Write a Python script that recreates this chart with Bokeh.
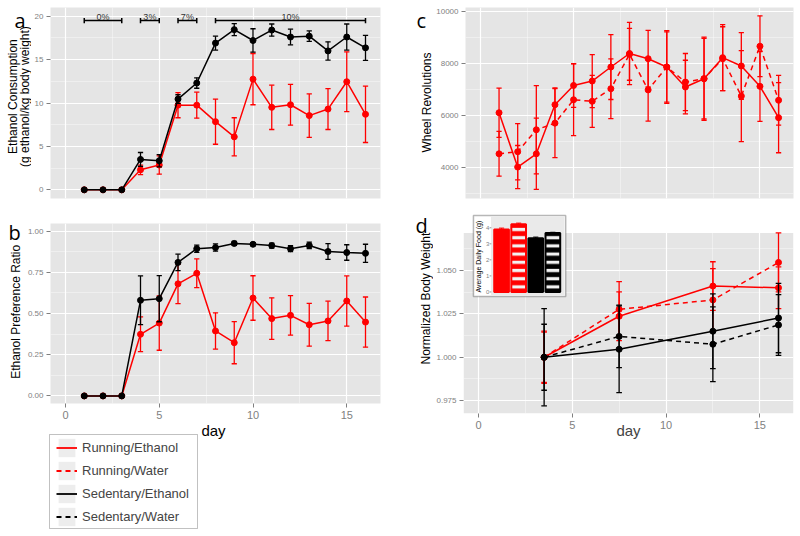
import math
from bokeh.plotting import figure
from bokeh.models import (Range1d, FixedTicker, NumeralTickFormatter, Legend, LegendItem,
                          BoxAnnotation, ColumnDataSource)
from bokeh.layouts import row, column
from bokeh.core.properties import value
from bokeh.embed import file_html
from bokeh.resources import INLINE

NAN = float("nan")

# ---------------- data ----------------
days = [1, 2, 3, 4, 5, 6, 7, 8, 9, 10, 11, 12, 13, 14, 15, 16]

# panel a: ethanol consumption (g/kg)
sed_eth_cons = [0, 0, 0, 3.5, 3.35, 10.45, 12.3, 16.9, 18.45, 17.2, 18.4, 17.6, 17.7, 16.0, 17.6, 16.35]
sed_eth_cons_se = [0, 0, 0, 0.8, 0.7, 0.5, 0.6, 0.8, 0.7, 1.35, 0.7, 0.9, 0.6, 1.05, 1.5, 1.45]
run_eth_cons = [0, 0, 0, 2.3, 2.85, 9.75, 9.75, 7.85, 6.1, 12.75, 9.5, 9.8, 8.55, 9.3, 12.45, 8.7]
run_eth_cons_se = [0, 0, 0, 0.55, 1.05, 1.45, 1.5, 2.6, 2.2, 2.95, 2.55, 2.35, 2.5, 2.35, 3.45, 3.25]

# concentration brackets
conc_start = [1, 4, 6, 8]
conc_end = [3, 5, 7, 16]
conc_label = ["0%", "3%", "7%", "10%"]
conc_level = 19.5

# panel b: ethanol preference ratio
sed_eth_pref = [0, 0, 0, 0.58, 0.59, 0.81, 0.893, 0.9, 0.925, 0.92, 0.912, 0.893, 0.913, 0.876, 0.87, 0.865]
sed_eth_pref_se = [0, 0, 0, 0.148, 0.14, 0.05, 0.022, 0.022, 0.012, 0.008, 0.015, 0.018, 0.02, 0.048, 0.047, 0.055]
run_eth_pref = [0, 0, 0, 0.374, 0.442, 0.68, 0.744, 0.394, 0.323, 0.594, 0.469, 0.489, 0.432, 0.455, 0.576, 0.448]
run_eth_pref_se = [0, 0, 0, 0.105, 0.165, 0.12, 0.087, 0.11, 0.128, 0.135, 0.126, 0.12, 0.13, 0.12, 0.152, 0.152]

# panel c: wheel revolutions
run_eth_wheel = [6120, 4030, 4540, 6430, 7170, 7340, 7880, 8400, 8200, 7880, 7110, 7430, 8240, 7920, 7135, 5930]
run_eth_wheel_se = [950, 830, 1370, 650, 840, 1020, 1250, 1200, 1090, 1350, 1030, 1550, 1270, 1280, 1350, 1350]
run_wat_wheel = [4540, 4620, 5465, 5720, 6620, 6560, 7045, 8370, 7000, 7880, 7300, 7430, 8200, 6760, 8680, 6600]
run_wat_wheel_se = [860, 1080, 1700, 1330, 1380, 1000, 1150, 1000, 1200, 1400, 1100, 1600, 1230, 1750, 1170, 960]

# panel d: normalized body weight
bw_days = [3.5, 7.5, 12.5, 16]
run_eth_bw = [1.000, 1.0236, 1.041, 1.040]
run_eth_bw_se = [0.015, 0.014, 0.014, 0.012]
run_wat_bw = [1.000, 1.0276, 1.033, 1.0546]
run_wat_bw_se = [0.0145, 0.016, 0.018, 0.017]
sed_eth_bw = [1.000, 1.0046, 1.015, 1.0226]
sed_eth_bw_se = [0.028, 0.025, 0.0215, 0.020]
sed_wat_bw = [1.000, 1.012, 1.0075, 1.0186]
sed_wat_bw_se = [0.019, 0.018, 0.0215, 0.0175]

# inset: average daily food (g)
food_groups = ["Running/Ethanol", "Running/Water", "Sedentary/Ethanol", "Sedentary/Water"]
food_mean = [3.9, 4.22, 3.35, 3.68]
food_se = [0.08, 0.07, 0.07, 0.04]
food_ticks = [0, 1, 2, 3, 4]

group_names = ["Running/Ethanol", "Running/Water", "Sedentary/Ethanol", "Sedentary/Water"]

# ---------------- styling ----------------
FONT = "Liberation Sans"
LETTER_FONT = "Open Sans"
RED = "#FF0000"
BLACK = "#000000"
PANEL_BG = "#E5E5E5"
TICK_GRAY = "#7F7F7F"
XR = (-0.8, 16.8)
XTICKS = [0, 5, 10, 15]
XMINOR = [2.5, 7.5, 12.5]


def make_fig(w, h, left, right, top, bottom, yr, yticks, yminor, yfmt=None, show_x=False, bg=PANEL_BG):
    p = figure(width=w, height=h, x_range=Range1d(*XR), y_range=Range1d(*yr),
               output_backend="svg", toolbar_location=None, title=None,
               min_border_left=left, min_border_right=right,
               min_border_top=top, min_border_bottom=bottom)
    p.background_fill_color = bg
    p.border_fill_color = "white"
    p.outline_line_color = None
    p.xaxis.ticker = FixedTicker(ticks=XTICKS, minor_ticks=XMINOR)
    p.yaxis.ticker = FixedTicker(ticks=yticks, minor_ticks=yminor)
    if yfmt:
        p.yaxis.formatter = NumeralTickFormatter(format=yfmt)
    for ax in (p.xaxis, p.yaxis):
        ax.axis_line_color = None
        ax.major_tick_in = 0
        ax.major_tick_out = 4
        ax.major_tick_line_color = TICK_GRAY
        ax.minor_tick_line_color = None
        ax.major_label_text_color = TICK_GRAY
        ax.major_label_text_font = FONT
    p.yaxis.major_label_text_font_size = "8px"
    p.yaxis.major_label_standoff = 3
    p.xaxis.major_label_text_font_size = "11px"
    p.xaxis.major_label_standoff = 3
    if not show_x:
        p.xaxis.visible = False
    for g in (p.xgrid, p.ygrid):
        g.grid_line_color = "white"
        g.grid_line_width = 1.2
        g.minor_grid_line_color = "white"
        g.minor_grid_line_alpha = 0.5
        g.minor_grid_line_width = 0.8
    return p


def strip(w, h):
    """Text-only figure (y grows downward, units = pixels) for letters, titles and the legend."""
    s = figure(width=w, height=h, x_range=Range1d(0, w), y_range=Range1d(h, 0),
               output_backend="svg", toolbar_location=None, title=None,
               min_border_left=0, min_border_right=0, min_border_top=0, min_border_bottom=0)
    s.axis.visible = False
    s.grid.visible = False
    s.outline_line_color = None
    s.background_fill_color = "white"
    s.border_fill_color = "white"
    return s


def put_text(fig, x, y, txt, size, font=FONT, angle=0.0, align="center", color="black"):
    fig.text(x=[x], y=[y], text=[txt], angle=angle, text_font=value(font), text_font_size=size,
             text_color=color, text_align=align, text_baseline="middle")


def series(p, x, y, se, color, dash="solid", cap=0.14):
    lo = [a - b for a, b in zip(y, se)]
    hi = [a + b for a, b in zip(y, se)]
    xl = [a - cap for a in x]
    xr = [a + cap for a in x]
    p.segment(x0=x, y0=lo, x1=x, y1=hi, line_color=color, line_width=1.3)
    p.segment(x0=xl, y0=lo, x1=xr, y1=lo, line_color=color, line_width=1.3)
    p.segment(x0=xl, y0=hi, x1=xr, y1=hi, line_color=color, line_width=1.3)
    p.line(x, y, line_color=color, line_width=1.5, line_dash=dash)
    p.scatter(x, y, size=6, fill_color=color, line_color=color)


# ---------------- panel a ----------------
sa = strip(31, 208)
put_text(sa, 14, 14.3, "a", "20px", font=LETTER_FONT, align="left")
put_text(sa, 12.5, 97, "Ethanol Consumption", "12px", angle=math.pi / 2)
put_text(sa, 24.5, 97, "(g ethanol/kg body weight)", "12px", angle=math.pi / 2)

pa = make_fig(369, 208, 17, 20, 7, 10, (-1.0, 21.0), [0, 5, 10, 15, 20], [2.5, 7.5, 12.5, 17.5])
series(pa, days, run_eth_cons, run_eth_cons_se, RED)
series(pa, days, sed_eth_cons, sed_eth_cons_se, BLACK)
tick_half = 0.3
pa.segment(x0=conc_start, y0=[conc_level] * 4, x1=conc_end, y1=[conc_level] * 4, line_color=BLACK, line_width=1.5)
pa.segment(x0=conc_start, y0=[conc_level - tick_half] * 4, x1=conc_start, y1=[conc_level + tick_half] * 4,
           line_color=BLACK, line_width=1.5)
pa.segment(x0=conc_end, y0=[conc_level - tick_half] * 4, x1=conc_end, y1=[conc_level + tick_half] * 4,
           line_color=BLACK, line_width=1.5)
pa.text(x=[(a + b) / 2 for a, b in zip(conc_start, conc_end)], y=[conc_level + 0.45] * 4, text=conc_label,
        text_font=value(FONT), text_font_size="9px", text_color="#333333",
        text_align="center", text_baseline="middle")

# ---------------- panel b ----------------
sb = strip(24, 215)
put_text(sb, 8, 11.3, "b", "20px", font=LETTER_FONT, align="left")
put_text(sb, 15.5, 105.5, "Ethanol Preference Ratio", "12px", angle=math.pi / 2)

pb = make_fig(376, 215, 23, 20, 15, 20, (-0.046, 1.046), [0, 0.25, 0.5, 0.75, 1.0],
              [0.125, 0.375, 0.625, 0.875], yfmt="0.00", show_x=True)
series(pb, days, run_eth_pref, run_eth_pref_se, RED)
series(pb, days, sed_eth_pref, sed_eth_pref_se, BLACK)

# ---------------- x title + legend below panel b ----------------
pl = strip(400, 113)
put_text(pl, 213, 6.5, "day", "15px")
key_bg = pl.quad(left=[NAN], right=[NAN], top=[NAN], bottom=[NAN], fill_color="#EDEDED", line_color=None)
key_styles = [(RED, "solid"), (RED, "5 4"), (BLACK, "solid"), (BLACK, "5 4")]
items = []
for name, (col, dash) in zip(group_names, key_styles):
    kr = pl.line(x=[NAN], y=[NAN], line_color=col, line_width=1.8, line_dash=dash)
    items.append(LegendItem(label=name, renderers=[key_bg, kr]))
legend = Legend(items=items, location=(56, 8), label_text_font=FONT, label_text_font_size="13px",
                border_line_color=None, background_fill_alpha=0,
                padding=1, spacing=0, glyph_width=21, glyph_height=23,
                label_height=23, label_standoff=5, margin=0)
pl.add_layout(legend)
pl.add_layout(BoxAnnotation(left=49, right=197, top=11, bottom=105, fill_alpha=0,
                            line_color="#333333", line_width=1))

# ---------------- panel c ----------------
sc = strip(33, 208)
put_text(sc, 16, 13.8, "c", "20px", font=LETTER_FONT, align="left")
put_text(sc, 26.5, 103.5, "Wheel Revolutions", "12px", angle=math.pi / 2)

pc = make_fig(367, 208, 30, 7, 7, 10, (2820, 10170), [4000, 6000, 8000, 10000], [3000, 5000, 7000, 9000])
series(pc, days, run_eth_wheel, run_eth_wheel_se, RED)
series(pc, days, run_wat_wheel, run_wat_wheel_se, RED, dash="5 4")

# ---------------- panel d ----------------
sd = strip(33, 248)
put_text(sd, 15, 14.3, "d", "20px", font=LETTER_FONT, align="left")
put_text(sd, 25, 105.5, "Normalized Body Weight", "12px", angle=math.pi / 2)

GRAY_TOP = 1.0716
pd_ = make_fig(367, 248, 28, 7, 5, 43, (0.9676, 1.0828), [0.975, 1.0, 1.025, 1.05],
               [0.9875, 1.0125, 1.0375, 1.0625], yfmt="0.000", show_x=True, bg="white")
pd_.xaxis.axis_label = "day"
pd_.xaxis.axis_label_text_font = FONT
pd_.xaxis.axis_label_text_font_size = "15px"
pd_.xaxis.axis_label_text_font_style = "normal"
pd_.xaxis.axis_label_standoff = -10
pd_.add_layout(BoxAnnotation(bottom=0.9676, top=GRAY_TOP, fill_color=PANEL_BG, fill_alpha=1,
                             line_color=None, level="image"))
series(pd_, bw_days, run_eth_bw, run_eth_bw_se, RED, cap=0.15)
series(pd_, bw_days, run_wat_bw, run_wat_bw_se, RED, dash="5 4", cap=0.15)
series(pd_, bw_days, sed_eth_bw, sed_eth_bw_se, BLACK, cap=0.15)
series(pd_, bw_days, sed_wat_bw, sed_wat_bw_se, BLACK, dash="5 4", cap=0.15)

# inset (own scales inside panel d)
pd_.extra_x_ranges = {"inset": Range1d(-1.227, 18.076)}
pd_.extra_y_ranges = {"inset": Range1d(-7.578, 4.89)}
pd_.add_layout(BoxAnnotation(left=-0.645, right=4.75, bottom=-0.286, top=4.76,
                             x_range_name="inset", y_range_name="inset",
                             fill_color="white", fill_alpha=1, line_color="#111111", line_width=1.5,
                             level="underlay"))
pd_.add_layout(BoxAnnotation(left=0.38, right=4.68, bottom=-0.2, top=4.68,
                             x_range_name="inset", y_range_name="inset",
                             fill_color="#EAEAEA", fill_alpha=1, line_color=None, level="underlay"))
food_x = list(range(1, len(food_mean) + 1))
food_src = ColumnDataSource(dict(
    x=food_x, top=food_mean,
    fill=[RED, RED, BLACK, BLACK],
    hatch=[" ", "-", " ", "-"],
))
pd_.vbar(x="x", top="top", bottom=0, width=0.86, source=food_src, fill_color="fill", line_color="fill",
         line_width=2, hatch_pattern="hatch", hatch_color="#F2F2F2", hatch_weight=3.2, hatch_scale=8.2,
         x_range_name="inset", y_range_name="inset")
f_lo = [m - s for m, s in zip(food_mean, food_se)]
f_hi = [m + s for m, s in zip(food_mean, food_se)]
pd_.segment(x0=food_x, y0=f_lo, x1=food_x, y1=f_hi, line_color=[RED, RED, BLACK, BLACK], line_width=1,
            x_range_name="inset", y_range_name="inset")
pd_.segment(x0=[x - 0.15 for x in food_x], y0=f_hi, x1=[x + 0.15 for x in food_x], y1=f_hi,
            line_color=[RED, RED, BLACK, BLACK], line_width=1, x_range_name="inset", y_range_name="inset")
pd_.text(x=[0.28] * len(food_ticks), y=food_ticks, text=[str(t) for t in food_ticks],
         text_font=value(FONT), text_font_size="6px", text_color=TICK_GRAY,
         text_align="right", text_baseline="middle", x_range_name="inset", y_range_name="inset")
pd_.segment(x0=[0.3] * len(food_ticks), y0=food_ticks, x1=[0.4] * len(food_ticks), y1=food_ticks,
            line_color=TICK_GRAY, line_width=0.8, x_range_name="inset", y_range_name="inset")
pd_.text(x=[-0.36], y=[2.2], text=["Average Daily Food (g)"], angle=math.pi / 2,
         text_font=value(FONT), text_font_size="7px", text_color="black",
         text_align="center", text_baseline="middle", x_range_name="inset", y_range_name="inset")

left_col = column(row(sa, pa), row(sb, pb), pl)
right_col = column(row(sc, pc), row(sd, pd_))
layout = row(left_col, right_col)
open("out.html", "w").write(file_html(layout, INLINE))
